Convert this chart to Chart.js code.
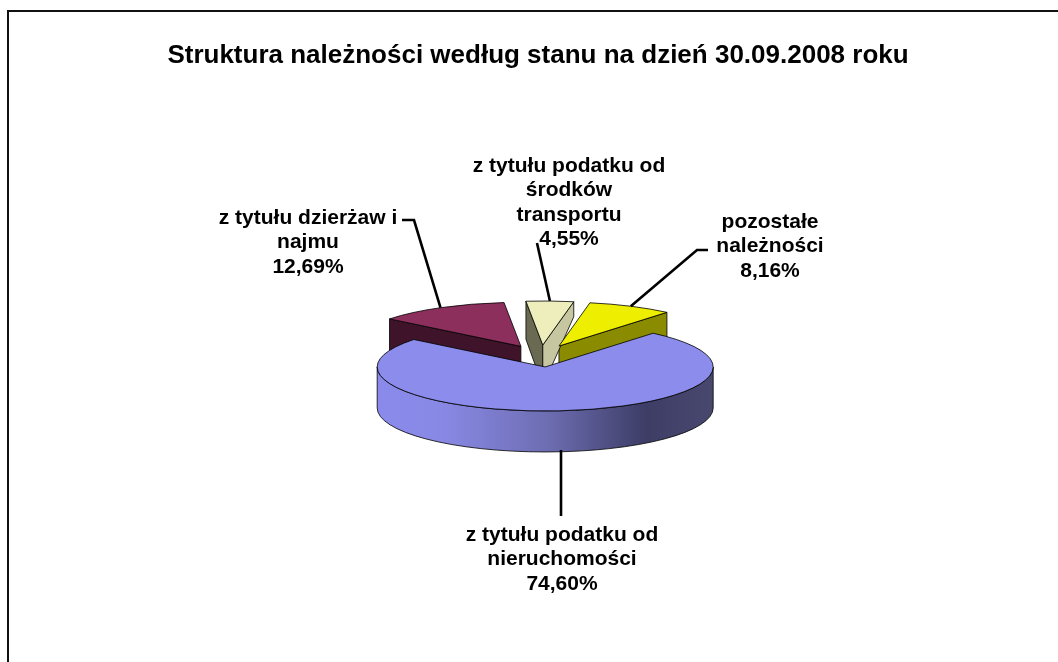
<!DOCTYPE html>
<html>
<head>
<meta charset="utf-8">
<title>Struktura należności</title>
<script src="https://cdn.jsdelivr.net/npm/chart.js@4/dist/chart.umd.min.js"></script>
<style>
    html, body { margin: 0; background: #fff; overflow: hidden; }
    #frame { position: absolute; left: 7px; top: 10px; width: 1100px; height: 700px; border: 2px solid #111; }
    #wrap { position: absolute; left: 0; top: 0; width: 1058px; height: 662px; }
</style>
</head>
<body>
<div id="frame"></div>
<div id="wrap"><canvas id="chartPie" width="1058" height="662"></canvas></div>
<script>
const chartTitle = "Struktura należności według stanu na dzień 30.09.2008 roku";
const categories = ["z tytułu podatku od nieruchomości", "z tytułu dzierżaw i najmu", "z tytułu podatku od środków transportu", "pozostałe należności"];
const shares = [74.60, 12.69, 4.55, 8.16];
const labelLines = [
    ["z tytułu podatku od", "nieruchomości", "74,60%"],
    ["z tytułu dzierżaw i", "najmu", "12,69%"],
    ["z tytułu podatku od", "środków", "transportu", "4,55%"],
    ["pozostałe", "należności", "8,16%"]
];

// look of the 3d pie
const topColors = ["#8b8ceb", "#8d2f5c", "#eeeebd", "#eeee00"];
const startFaceColors = [null, "#3f142b", "#6a6a52", null];
const endFaceColors = [null, null, "#c6c6a0", "#8b8b00"];
// wall height at the outer end of a cut face (perspective makes it uneven)
const startFaceFar = [0, 38, 38, 0];
const endFaceFar = [0, 0, 15, 38];
const pieX = 541, pieY = 356, tilt = 0.262, depth = 41, explode = 42;

// label block: centre x, first line y; leader: start points, then it runs to the slice
const labelPlace = [
    { x: 562, y: 535, lead: [[561, 516], [561, 450]], toRim: false },
    { x: 308, y: 218, lead: [[402, 220], [414, 220]], toRim: true },
    { x: 569, y: 166, lead: [[537, 243]], toRim: true },
    { x: 770, y: 222, lead: [[708, 250], [697, 250]], toRim: true }
];
const lineGap = 24.5;

const sliceOrigin = (arc) => {
    const mid = (arc.startAngle + arc.endAngle) / 2;
    return {
        x: pieX + Math.cos(mid) * explode,
        y: pieY + Math.sin(mid) * explode * tilt
    };
};

const rimPoint = (arc, o, angle) => ({
    x: o.x + Math.cos(angle) * arc.outerRadius,
    y: o.y + Math.sin(angle) * arc.outerRadius * tilt
});

const drawFace = (ctx, arc, o, angle, color, farDepth) => {
    const p = rimPoint(arc, o, angle);
    ctx.beginPath();
    ctx.moveTo(o.x, o.y);
    ctx.lineTo(p.x, p.y);
    ctx.lineTo(p.x, p.y + farDepth);
    ctx.lineTo(o.x, o.y + depth);
    ctx.closePath();
    ctx.fillStyle = color;
    ctx.fill();
    ctx.stroke();
};

const drawRim = (ctx, arc, o) => {
    const r = arc.outerRadius;
    const grad = ctx.createLinearGradient(o.x - r, 0, o.x + r, 0);
    grad.addColorStop(0, "#8a8aec");
    grad.addColorStop(0.2, "#8888e4");
    grad.addColorStop(0.5, "#6e6eb4");
    grad.addColorStop(0.8, "#3d3d66");
    grad.addColorStop(1, "#48486f");
    ctx.beginPath();
    ctx.ellipse(o.x, o.y, r, r * tilt, 0, 0, Math.PI);
    ctx.lineTo(o.x - r, o.y + depth);
    ctx.ellipse(o.x, o.y + depth, r, r * tilt, 0, Math.PI, 0, true);
    ctx.closePath();
    ctx.fillStyle = grad;
    ctx.fill();
    ctx.stroke();
};

const pie3d = {
    id: "pie3d",
    beforeDatasetDraw(chart, args) {
        const ctx = chart.ctx;
        const arcs = args.meta.data;
        ctx.save();
        ctx.strokeStyle = "#000";
        ctx.lineWidth = 0.8;
        // walls first, the big front slice last so its top can cover the rest
        for (let i = arcs.length - 1; i >= 0; i--) {
            const o = sliceOrigin(arcs[i]);
            if (startFaceColors[i]) drawFace(ctx, arcs[i], o, arcs[i].startAngle, startFaceColors[i], startFaceFar[i]);
            if (endFaceColors[i]) drawFace(ctx, arcs[i], o, arcs[i].endAngle, endFaceColors[i], endFaceFar[i]);
        }
        drawRim(ctx, arcs[0], sliceOrigin(arcs[0]));

        // tops are the library's own arcs, only squashed and moved
        arcs.forEach((arc) => {
            const o = sliceOrigin(arc);
            ctx.save();
            ctx.translate(o.x, o.y);
            ctx.scale(1, tilt);
            ctx.translate(-arc.x, -arc.y);
            arc.draw(ctx);
            ctx.restore();

            ctx.beginPath();
            ctx.ellipse(o.x, o.y, arc.outerRadius, arc.outerRadius * tilt, 0, arc.startAngle, arc.endAngle);
            ctx.lineTo(o.x, o.y);
            ctx.closePath();
            ctx.stroke();
        });
        ctx.restore();
        return false;
    },
    afterDatasetsDraw(chart) {
        const ctx = chart.ctx;
        const arcs = chart.getDatasetMeta(0).data;
        ctx.save();
        ctx.strokeStyle = "#000";
        ctx.lineWidth = 2.6;
        arcs.forEach((arc, i) => {
            const mid = (arc.startAngle + arc.endAngle) / 2;
            const end = rimPoint(arc, sliceOrigin(arc), mid);
            const pts = labelPlace[i].lead;
            ctx.beginPath();
            ctx.moveTo(pts[0][0], pts[0][1]);
            pts.slice(1).forEach(p => ctx.lineTo(p[0], p[1]));
            if (labelPlace[i].toRim) ctx.lineTo(end.x, end.y);
            ctx.stroke();
        });
        ctx.fillStyle = "#000";
        ctx.font = "bold 21px 'Liberation Sans', Arial, sans-serif";
        ctx.textAlign = "center";
        ctx.textBaseline = "middle";
        labelLines.forEach((lines, i) => {
            lines.forEach((line, n) => {
                ctx.fillText(line, labelPlace[i].x, labelPlace[i].y + n * lineGap);
            });
        });
        ctx.restore();
    }
};

const config = {
    type: "pie",
    data: {
        labels: categories,
        datasets: [{
            data: shares,
            backgroundColor: topColors,
            borderWidth: 0,
            radius: 168
        }]
    },
    options: {
        responsive: false,
        animation: false,
        rotation: 40,
        layout: { padding: { left: 18, top: 0, right: 0, bottom: 0 } },
        plugins: {
            legend: { display: false },
            tooltip: { enabled: false },
            title: {
                display: true,
                text: chartTitle,
                color: "#000",
                font: { family: "'Liberation Sans', Arial, sans-serif", size: 26, weight: "bold" },
                padding: { top: 40, bottom: 10 }
            }
        }
    },
    plugins: [pie3d]
};

new Chart(document.getElementById("chartPie"), config);
</script>
</body>
</html>
